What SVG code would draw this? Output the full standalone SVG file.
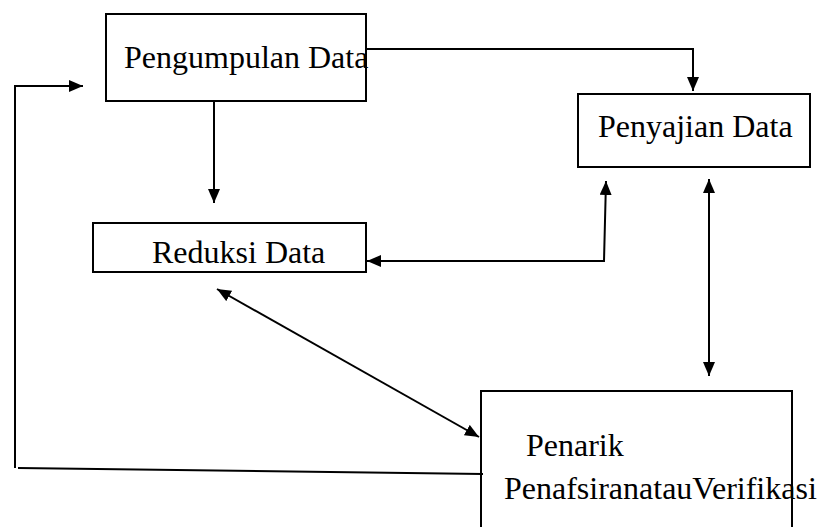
<svg xmlns="http://www.w3.org/2000/svg" width="835" height="527" viewBox="0 0 835 527">
<style>
.box{fill:#fff;stroke:#000;stroke-width:2}
.t{font-family:'Liberation Serif','Times New Roman',Tinos,'DejaVu Serif',serif;font-size:32px;fill:#000}
.c{fill:none;stroke:#000;stroke-width:2}
</style>
<defs>
<marker id="ah" markerUnits="userSpaceOnUse" markerWidth="14" markerHeight="12" refX="14" refY="6" orient="auto-start-reverse" viewBox="0 0 14 12">
<path d="M0,0 L14,6 L0,12 z" fill="#000"/>
</marker>
</defs>
<g id="node-pengumpulan">
<rect class="box" x="106" y="14" width="260" height="87"/>
<text class="t" x="124" y="68">Pengumpulan Data</text>
</g>
<g id="node-penyajian">
<rect class="box" x="578" y="94" width="232" height="73"/>
<text class="t" x="598" y="137">Penyajian Data</text>
</g>
<g id="node-reduksi">
<rect class="box" x="93" y="223" width="273" height="49"/>
<text class="t" x="152" y="263">Reduksi Data</text>
</g>
<g id="node-penarik">
<rect class="box" x="481" y="391" width="311" height="150"/>
<text class="t" x="526" y="456">Penarik</text>
<text class="t" x="504" y="499">PenafsiranatauVerifikasi</text>
</g>
<g id="connectors">
<path class="c" d="M366,49 H693 V91" marker-end="url(#ah)"/>
<path class="c" d="M214,101 V203" marker-end="url(#ah)"/>
<path class="c" d="M15,468 V86 H83" marker-end="url(#ah)"/>
<path class="c" d="M18,468 L483,474"/>
<path class="c" d="M606,181 L604,261 H367" marker-start="url(#ah)" marker-end="url(#ah)"/>
<path class="c" d="M709,179 V376" marker-start="url(#ah)" marker-end="url(#ah)"/>
<path class="c" d="M217,289 L479,437" marker-start="url(#ah)" marker-end="url(#ah)"/>
</g>
</svg>
